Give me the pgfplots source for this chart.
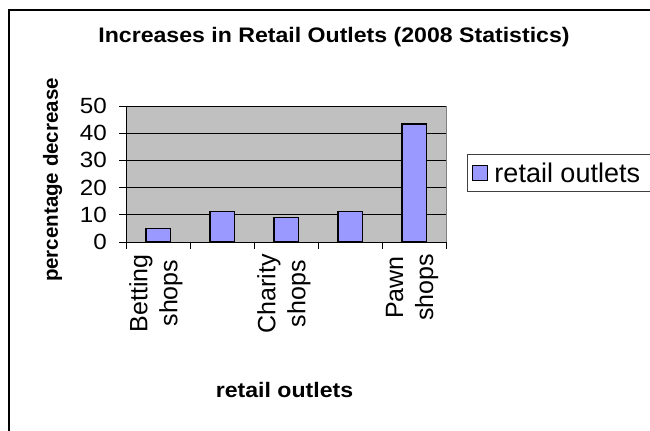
\documentclass[border=0pt]{standalone}
\usepackage{fontspec}
\setmainfont[FakeStretch=1.1]{Liberation Sans}
\newfontfamily\rotfont{Liberation Sans}
\usepackage{pgfplots}
\pgfplotsset{compat=1.18}
\definecolor{barblue}{HTML}{9999FF}
\definecolor{plotgray}{HTML}{C0C0C0}
\definecolor{framegray}{HTML}{808080}
\begin{document}
\begin{tikzpicture}[x=1bp,y=1bp]
\useasboundingbox (0,0) rectangle (650,430);
\begin{axis}[
  at={(126bp,188bp)}, anchor=south west,
  scale only axis, width=320bp, height=136bp,
  xmin=0.5, xmax=5.5, ymin=0, ymax=50,
  axis x line*=bottom, axis y line*=left,
  axis line style={black, line width=1bp, -},
  axis background/.style={fill=plotgray, draw=framegray, line width=1bp},
  ytick={0,10,...,50},
  ymajorgrids, grid style={black, line width=1bp},
  xtick={0.5,1.5,...,5.5}, xticklabels={},
  tick align=outside, major tick length=7bp,
  tick style={black, line width=1bp},
  extra x ticks={1,2,3,4,5},
  extra x tick labels={{Betting\\shops},{},{Charity\\shops},{},{Pawn\\shops}},
  extra x tick style={major tick length=0bp, grid=none},
  xticklabel style={font={\rotfont\fontsize{25bp}{30bp}\selectfont}, yshift=-12bp, xshift=-2bp, rotate=90, anchor=east, align=center, inner sep=0pt},
  /pgf/number format/assume math mode=true,
  yticklabel style={font={\fontsize{22bp}{26bp}\selectfont}, inner sep=0pt, xshift=-12bp},
  title={Increases in Retail Outlets (2008 Statistics)},
  title style={at={(axis description cs:0.65,1.4265)}, anchor=base, inner sep=0pt, font={\bfseries\fontsize{21bp}{25bp}\selectfont}},
  xlabel={retail outlets},
  xlabel style={at={(axis description cs:0.4953,-1.147)}, anchor=base, inner sep=0pt, font={\bfseries\fontsize{21bp}{25bp}\selectfont}},
  ylabel={percentage decrease},
  ylabel style={at={(axis description cs:-0.2297,0.456)}, anchor=center, inner sep=0pt, font={\rotfont\bfseries\fontsize{20.5bp}{24bp}\selectfont}},
  legend style={at={(axis description cs:1.0656,0.647)}, anchor=north west, draw=black!75, line width=1bp, fill=white,
    font={\rotfont\fontsize{27bp}{31bp}\selectfont}, inner xsep=4bp, inner ysep=3bp,
    nodes={inner xsep=7bp, inner ysep=5bp}},
]
\addplot[ybar, bar width=24.5bp, fill=barblue, draw=black, line width=1.5bp,
  legend image code/.code={\draw[fill=barblue, draw=black, line width=1bp] (3bp,-7bp) rectangle (18bp,8bp);}]
  coordinates {(1,5) (2,11.2) (3,9.1) (4,11.2) (5,43.4)};
\addlegendentry{retail outlets}
\end{axis}
\draw[line width=1.5bp] (9,-5) -- (9,420) -- (660,420);
\end{tikzpicture}
\end{document}
